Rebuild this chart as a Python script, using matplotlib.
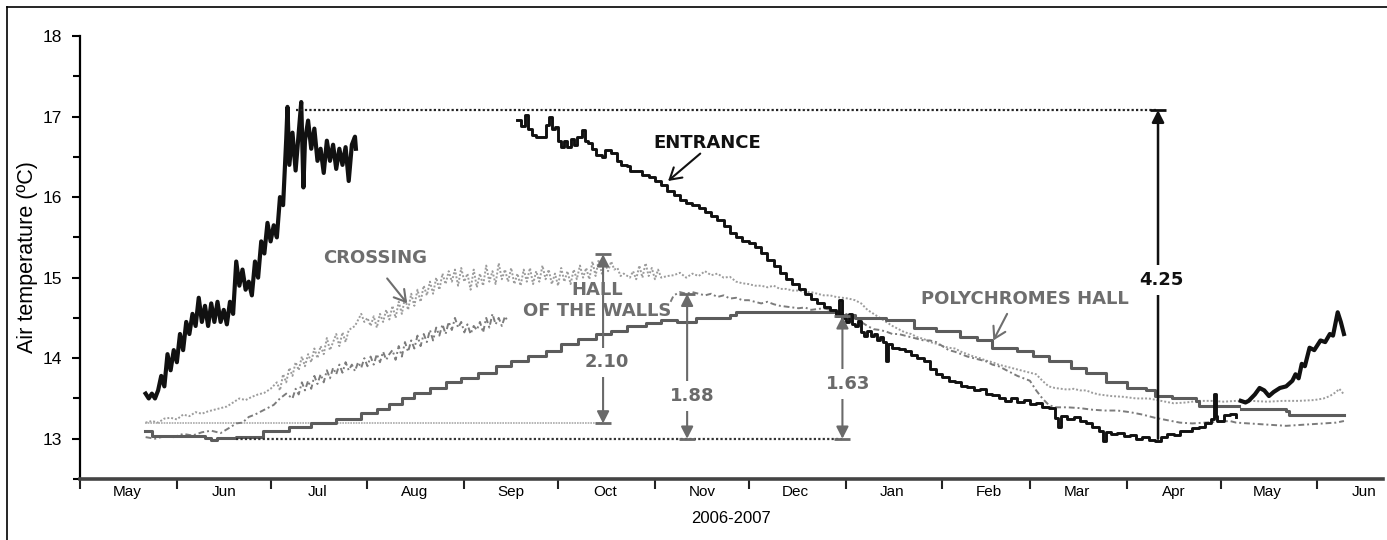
import numpy as np
import pandas as pd
import matplotlib
matplotlib.use("Agg")
import matplotlib.pyplot as plt
import matplotlib.dates as mdates
from matplotlib.lines import Line2D
from matplotlib.ticker import MultipleLocator, NullFormatter

plt.rcParams['font.family'] = ['Liberation Sans', 'DejaVu Sans']

# days counted from 1 May 2006
START = pd.Timestamp("2006-05-01")

ent1_days = [21, 22, 23, 24, 25, 26, 27, 28, 29, 30, 31, 32, 33, 34, 35, 36, 37, 38, 39, 40,
             41, 42, 43, 44, 45, 46, 47, 48, 49, 50, 51, 52, 53, 54, 55, 56, 57, 58, 59, 60,
             61, 62, 63, 64, 65, 66, 66.4, 67, 68, 69, 70, 70.8, 71.5, 72, 73, 74, 75, 76, 77, 78,
             79, 80, 81, 82, 83, 84, 85, 86, 87, 88, 88.3]
ent1_temp = [13.56, 13.50, 13.56, 13.50, 13.60, 13.78, 13.65, 14.05, 13.85, 14.10, 13.95, 14.30,
             14.10, 14.45, 14.30, 14.55, 14.40, 14.75, 14.45, 14.65, 14.40, 14.68, 14.45, 14.70,
             14.45, 14.60, 14.42, 14.70, 14.55, 15.20, 14.90, 15.10, 14.85, 14.95, 14.78, 15.20,
             15.00, 15.45, 15.30, 15.68, 15.45, 15.65, 15.50, 16.00, 15.90, 16.72, 17.12, 16.40,
             16.80, 16.33, 16.80, 17.18, 16.12, 16.70, 16.95, 16.60, 16.85, 16.45, 16.60, 16.30,
             16.70, 16.45, 16.65, 16.35, 16.60, 16.40, 16.62, 16.20, 16.65, 16.75, 16.60]

ent2_days = [140, 141, 142.5, 143.5, 144.5, 146, 148, 149, 150, 151, 152, 153, 154, 155, 156,
             157, 158, 159, 160.5, 161.5, 162.5, 164, 165, 167, 168, 170, 172, 173, 175, 176,
             178, 180, 182, 184, 186, 188, 190, 192, 194, 196, 198, 200, 202, 204, 206, 208,
             210, 212, 214, 216, 218, 220, 222, 224, 226, 228, 230, 232, 234, 236, 238, 240,
             242, 243, 244, 245, 246, 247, 248, 249, 250, 251, 252, 253, 254, 255, 256, 257,
             258, 258.5, 260, 262, 264, 266, 268, 270, 272, 274, 276, 278, 280, 282, 284, 286,
             288, 290, 292, 294, 296, 298, 300, 302, 304, 306, 308, 310, 312, 313, 314, 316,
             318, 320, 322, 324, 326, 327.5, 328.5, 330, 332, 334, 336, 338, 340, 342, 344, 346,
             348, 350, 352, 354, 356, 358, 360, 362, 363, 363.5, 364, 366, 368, 370]
ent2_temp = [16.96, 16.88, 17.02, 16.85, 16.77, 16.74, 16.74, 16.90, 17.00, 16.85, 16.87, 16.70,
             16.62, 16.70, 16.62, 16.72, 16.65, 16.75, 16.83, 16.70, 16.67, 16.60, 16.52, 16.50,
             16.58, 16.55, 16.45, 16.40, 16.38, 16.33, 16.32, 16.27, 16.25, 16.20, 16.15, 16.08,
             16.02, 15.97, 15.93, 15.90, 15.86, 15.81, 15.76, 15.71, 15.64, 15.56, 15.50, 15.46,
             15.43, 15.38, 15.30, 15.22, 15.15, 15.06, 14.98, 14.92, 14.86, 14.80, 14.74, 14.68,
             14.64, 14.60, 14.52, 14.72, 14.50, 14.45, 14.55, 14.42, 14.40, 14.46, 14.32, 14.28,
             14.34, 14.28, 14.30, 14.22, 14.26, 14.20, 13.97, 14.18, 14.13, 14.12, 14.09, 14.04,
             14.00, 13.96, 13.86, 13.80, 13.77, 13.72, 13.70, 13.66, 13.64, 13.60, 13.62, 13.56,
             13.54, 13.50, 13.47, 13.50, 13.46, 13.48, 13.43, 13.44, 13.40, 13.38, 13.26, 13.14,
             13.28, 13.25, 13.27, 13.22, 13.20, 13.14, 13.10, 12.97, 13.08, 13.06, 13.07, 13.03,
             13.05, 13.00, 13.02, 12.98, 12.97, 13.02, 13.06, 13.05, 13.10, 13.09, 13.13, 13.15,
             13.20, 13.24, 13.56, 13.28, 13.22, 13.30, 13.31, 13.27]

ent3_days = [371.5, 373, 374, 376, 377.5, 379, 380.5, 382, 384, 386, 388, 389, 390, 391, 392,
             393.5, 395, 397, 398.5, 400, 401, 402.5, 403.5, 404.5]
ent3_temp = [13.47, 13.45, 13.47, 13.55, 13.63, 13.60, 13.53, 13.58, 13.63, 13.65, 13.72, 13.80,
             13.75, 13.93, 13.90, 14.13, 14.10, 14.22, 14.20, 14.30, 14.28, 14.57, 14.45, 14.30]

cross_days = [21, 23, 25, 27, 29, 31, 33, 35, 37, 39, 41, 43, 45, 47, 49, 51, 53, 55, 57, 59,
              61, 63, 64, 65, 66, 67, 68, 69, 70, 71, 72, 73, 74, 75, 76, 77, 78, 79, 80, 81,
              82, 83, 84, 85, 86, 88, 90, 91, 92, 93, 94, 95, 96, 97, 98, 99, 100, 101, 102, 103,
              104, 105, 106, 107, 108, 109, 110, 111, 112, 113, 114, 115, 116, 117, 118, 119, 120,
              121, 122, 123, 124, 125, 126, 127, 128, 129, 130, 131, 132, 133, 134, 135, 136, 137,
              138, 139, 140, 141, 142, 143, 144, 145, 146, 147, 148, 149, 150, 151, 152, 153, 154,
              155, 156, 157, 158, 159, 160, 161, 162, 163, 164, 165, 166, 167, 168, 169, 170, 171,
              172, 173, 174, 176, 177, 178, 179, 180, 181, 182, 183, 184, 185, 186, 188, 190, 192,
              194, 196, 198, 200, 202, 204, 206, 208, 210, 212, 214, 216, 218, 220, 222, 224, 226,
              228, 230, 232, 234, 236, 238, 240, 242, 244, 246, 248, 250, 252, 254, 256, 258, 260,
              262, 264, 266, 268, 270, 272, 274, 276, 278, 280, 282, 284, 286, 288, 290, 292, 294,
              296, 298, 300, 302, 304, 306, 308, 310, 312, 314, 316, 318, 320, 322, 324, 326, 328,
              330, 334, 338, 342, 346, 350, 354, 358, 362, 366, 370, 375, 380, 385, 390, 395, 398,
              400, 402, 403, 404.5]
cross_temp = [13.20, 13.22, 13.20, 13.25, 13.26, 13.24, 13.30, 13.28, 13.33, 13.31, 13.34, 13.36,
              13.38, 13.40, 13.45, 13.50, 13.48, 13.52, 13.55, 13.57, 13.62, 13.70, 13.60, 13.80,
              13.70, 13.88, 13.78, 13.95, 13.85, 14.02, 13.90, 14.05, 13.95, 14.12, 14.00, 14.15,
              14.05, 14.25, 14.10, 14.20, 14.30, 14.15, 14.32, 14.20, 14.35, 14.40, 14.55, 14.45,
              14.50, 14.40, 14.52, 14.38, 14.55, 14.45, 14.60, 14.48, 14.65, 14.50, 14.70, 14.55,
              14.75, 14.60, 14.80, 14.65, 14.85, 14.70, 14.90, 14.78, 14.95, 14.80, 15.00, 14.85,
              15.05, 14.92, 15.08, 14.95, 15.10, 14.90, 15.12, 14.95, 15.05, 14.85, 15.10, 14.88,
              15.05, 14.90, 15.15, 14.95, 15.08, 14.92, 15.18, 14.98, 15.10, 14.95, 15.12, 14.92,
              15.05, 14.90, 15.10, 14.95, 15.12, 14.92, 15.08, 14.95, 15.15, 14.98, 15.10, 14.92,
              15.05, 14.90, 15.12, 14.95, 15.08, 14.92, 15.10, 14.98, 15.15, 15.00, 15.12, 14.98,
              15.20, 15.02, 15.22, 15.05, 15.18, 15.08, 15.20, 15.10, 15.12, 15.02, 15.05, 15.00,
              15.08, 14.98, 15.15, 15.00, 15.18, 15.02, 15.12, 14.98, 15.10, 15.00, 15.02, 15.03,
              15.06, 15.00, 15.05, 15.02, 15.08, 15.03, 15.05, 15.00, 15.01, 14.95, 14.93, 14.92,
              14.90, 14.90, 14.88, 14.90, 14.86, 14.86, 14.84, 14.84, 14.82, 14.82, 14.80, 14.78,
              14.78, 14.76, 14.75, 14.74, 14.72, 14.68, 14.60, 14.55, 14.50, 14.45, 14.40, 14.36,
              14.32, 14.30, 14.26, 14.24, 14.20, 14.18, 14.15, 14.13, 14.12, 14.08, 14.05, 14.02,
              14.00, 13.97, 13.95, 13.92, 13.90, 13.88, 13.86, 13.84, 13.82, 13.80, 13.72, 13.65,
              13.63, 13.62, 13.61, 13.62, 13.60, 13.60, 13.57, 13.55, 13.54, 13.53, 13.52, 13.50,
              13.50, 13.47, 13.44, 13.45, 13.47, 13.47, 13.46, 13.47, 13.47, 13.46, 13.47, 13.47,
              13.48, 13.50, 13.53, 13.58, 13.62, 13.55]

walls_days = [21, 24, 27, 30, 33, 36, 39, 42, 45, 48, 50, 52, 54, 56, 58, 60, 62, 64, 66, 68,
              69, 70, 71, 72, 73, 74, 75, 76, 77, 78, 79, 80, 81, 82, 83, 84, 85, 86, 87, 88, 89,
              90, 91, 92, 93, 94, 95, 96, 97, 98, 99, 100, 101, 102, 103, 104, 105, 106, 107, 108,
              109, 110, 111, 112, 113, 114, 115, 116, 117, 118, 119, 120, 121, 122, 123, 124, 125,
              126, 127, 128, 129, 130, 131, 132, 133, 134, 135, 136, 137, 160,
              189, 190, 192, 194, 196, 198, 200, 202, 204, 206, 208, 210, 212, 214, 216, 218, 220,
              222, 224, 226, 228, 230, 232, 234, 236, 238, 240, 242, 244, 246, 248, 250, 252, 254,
              256, 258, 260, 262, 264, 266, 268, 270, 272, 274, 276, 278, 280, 282, 284, 286, 288,
              290, 292, 294, 296, 298, 300, 302, 304, 306, 308, 310, 312, 316, 320, 324, 328, 332,
              336, 340, 344, 348, 352, 356, 360, 364, 368, 370, 374, 378, 382, 386, 390, 394, 398,
              402, 404.5]
walls_temp = [13.02, 13.00, 13.03, 13.02, 13.06, 13.04, 13.08, 13.10, 13.07, 13.14, 13.19, 13.20,
              13.27, 13.30, 13.34, 13.38, 13.42, 13.50, 13.56, 13.50, 13.62, 13.55, 13.70, 13.60,
              13.72, 13.62, 13.78, 13.68, 13.80, 13.70, 13.85, 13.75, 13.88, 13.80, 13.92, 13.82,
              13.95, 13.85, 13.92, 13.84, 13.95, 13.88, 14.00, 13.90, 14.02, 13.92, 14.05, 13.95,
              14.08, 13.98, 14.05, 14.10, 13.98, 14.15, 14.02, 14.20, 14.08, 14.22, 14.12, 14.28,
              14.15, 14.30, 14.20, 14.35, 14.22, 14.38, 14.28, 14.42, 14.30, 14.45, 14.35, 14.50,
              14.38, 14.45, 14.32, 14.42, 14.30, 14.40, 14.35, 14.45, 14.32, 14.50, 14.38, 14.55,
              14.42, 14.50, 14.40, 14.52, 14.45, np.nan,
              14.70, 14.78, 14.82, 14.80, 14.82, 14.80, 14.78, 14.80, 14.76, 14.78, 14.74, 14.75,
              14.72, 14.72, 14.70, 14.68, 14.70, 14.67, 14.65, 14.64, 14.63, 14.62, 14.63, 14.60,
              14.61, 14.62, 14.60, 14.58, 14.56, 14.54, 14.50, 14.45, 14.40, 14.36, 14.35, 14.33,
              14.30, 14.30, 14.28, 14.26, 14.24, 14.22, 14.22, 14.20, 14.15, 14.10, 14.08, 14.05,
              14.02, 14.00, 13.98, 13.96, 13.92, 13.90, 13.86, 13.82, 13.78, 13.75, 13.72, 13.60,
              13.50, 13.42, 13.39, 13.39, 13.38, 13.36, 13.35, 13.35, 13.33, 13.30, 13.26, 13.23,
              13.20, 13.19, 13.20, 13.21, 13.22, 13.20, 13.19, 13.18, 13.17, 13.16, 13.17, 13.18,
              13.19, 13.20, 13.22]

poly_days = [20.7, 23, 30, 40, 42, 44, 50, 58.5, 67, 74, 82, 90, 95, 99, 103, 107, 112, 117, 122,
             127.5, 133, 138, 143.5, 149, 154, 159.5, 165, 170, 175, 181, 186, 191, 197, 208, 210,
             243, 248, 258, 267, 274, 281.6, 287, 292, 300, 305, 310, 317, 322, 328.5, 335, 341,
             344, 349.5, 357, 358, 370, 370.8, 371.5, 386, 387, 404.5]
poly_temp = [13.10, 13.04, 13.03, 13.01, 12.98, 13.01, 13.02, 13.10, 13.14, 13.20, 13.25, 13.32,
             13.37, 13.43, 13.50, 13.57, 13.63, 13.70, 13.76, 13.82, 13.90, 13.97, 14.03, 14.09,
             14.18, 14.24, 14.30, 14.34, 14.40, 14.44, 14.47, 14.45, 14.50, 14.53, 14.57, 14.53,
             14.50, 14.47, 14.38, 14.34, 14.26, 14.22, 14.13, 14.09, 14.03, 13.97, 13.88, 13.82,
             13.70, 13.63, 13.60, 13.53, 13.51, 13.47, 13.41, 13.41, np.nan, 13.37, 13.35, 13.29,
             13.29]

# reference levels and differences
level_max = 17.08
level_min = 13.00
level_cross = 13.19
diff_labels = ['2.10', '1.88', '1.63', '4.25']
diff_days = [167.4, 194.3, 244.0, 345.0]
diff_low = [13.19, 13.00, 13.00, 13.00]
diff_high = [15.29, 14.80, 14.52, 17.08]
diff_label_days = [168.5, 196.0, 245.8, 346.0]
diff_label_temp = [13.95, 13.53, 13.68, 14.97]


def to_dates(days):
    return START + pd.to_timedelta(np.asarray(days, dtype=float), unit='D')


fig = plt.figure(figsize=(13.87, 5.40), dpi=100)
ax = fig.add_axes([80 / 1387, 1 - 479 / 540, 1303 / 1387, (479 - 36) / 540])

c_text = '#6e6e6e'
c_poly = '#5c5c5c'
c_walls = '#7c7c7c'
c_cross = '#9c9c9c'

ax.plot(to_dates(cross_days), cross_temp, color=c_cross, lw=1.4, ls=(0, (1, 1)), zorder=2)
ax.plot(to_dates(walls_days), walls_temp, color=c_walls, lw=1.4, ls=(0, (3, 1.5, 1, 1.5)), zorder=3)
ax.plot(to_dates(poly_days), poly_temp, color=c_poly, lw=2.2, drawstyle='steps-post', zorder=4)
ax.plot(to_dates(ent1_days), ent1_temp, color='#111111', lw=3.0, zorder=5)
ax.plot(to_dates(ent2_days), ent2_temp, color='#111111', lw=2.1, drawstyle='steps-post', zorder=5)
ax.plot(to_dates(ent3_days), ent3_temp, color='#111111', lw=3.0, zorder=5)

# horizontal reference lines
ax.plot(to_dates([69, 345]), [level_max, level_max], color='#222222', lw=1.6, ls=(0, (1, 1)), zorder=6)
ax.plot(to_dates([50, 244]), [level_min, level_min], color='#333333', lw=1.6, ls=(0, (1, 1)), zorder=6)
ax.plot(to_dates([20.7, 167.4]), [level_cross, level_cross], color='#aaaaaa', lw=1.2, ls=(0, (1, 0.6)), zorder=2)

# difference arrows
for lab, d, lo, hi, ld, lt in zip(diff_labels, diff_days, diff_low, diff_high, diff_label_days, diff_label_temp):
    black = lab == '4.25'
    col = '#111111' if black else '#6a6a6a'
    style = '-|>' if black else '<|-|>'
    x = to_dates([d])[0]
    ax.annotate('', xy=(x, hi), xytext=(x, lo),
                arrowprops=dict(arrowstyle=style + ',head_length=0.55,head_width=0.28', color=col,
                                lw=1.8 if black else 1.5, shrinkA=0, shrinkB=0,
                                mutation_scale=13), zorder=7)
    ends = [hi] if black else [lo, hi]
    ax.plot([x] * len(ends), ends, ls='none', marker='_', ms=11, mew=2, color=col, zorder=7)
    ax.text(to_dates([ld])[0], lt, lab, ha='center', va='center', fontsize=13, fontweight='bold',
            family='DejaVu Sans', color=col, zorder=8,
            bbox=dict(facecolor='white', edgecolor='none', pad=4))

# series labels
bold = dict(fontsize=13, fontweight='bold', family='DejaVu Sans')
pointer = dict(arrowstyle='->,head_length=0.5,head_width=0.3', lw=1.5, shrinkA=0, shrinkB=0,
               mutation_scale=16)
ax.text(to_dates([200.7])[0], 16.67, 'ENTRANCE', ha='center', va='center', color='#111111', **bold)
ax.annotate('', xy=(to_dates([188.2])[0], 16.20), xytext=(to_dates([198.5])[0], 16.54),
            arrowprops=dict(color='#111111', **pointer))
ax.text(to_dates([94.4])[0], 15.24, 'CROSSING', ha='center', va='center', color=c_text, **bold)
ax.annotate('', xy=(to_dates([104.7])[0], 14.68), xytext=(to_dates([98.3])[0], 14.99),
            arrowprops=dict(color=c_text, **pointer))
ax.text(to_dates([165.5])[0], 14.72, 'HALL\nOF THE WALLS', ha='center', va='center',
        multialignment='center', linespacing=1.2, color=c_text, zorder=8, **bold)
ax.text(to_dates([302.5])[0], 14.74, 'POLYCHROMES HALL', ha='center', va='center', color=c_text, **bold)
ax.annotate('', xy=(to_dates([292.3])[0], 14.22), xytext=(to_dates([296.7])[0], 14.55),
            arrowprops=dict(color=c_text, **pointer))

# axes styling
ax.set_xlim(START, START + pd.Timedelta(days=417))
ax.set_ylim(12.5, 18)
ax.yaxis.set_major_locator(MultipleLocator(1))
ax.yaxis.set_minor_locator(MultipleLocator(0.5))
ax.xaxis.set_major_locator(mdates.MonthLocator())
ax.xaxis.set_major_formatter(NullFormatter())
ax.xaxis.set_minor_locator(mdates.MonthLocator(bymonthday=16))
ax.xaxis.set_minor_formatter(mdates.DateFormatter('%b'))
ax.tick_params(axis='x', which='major', length=7, width=1.5, direction='out', color='#222222')
ax.tick_params(axis='x', which='minor', length=0, labelsize=11, pad=4)
ax.tick_params(axis='y', which='major', length=6, width=1.5, direction='out', labelsize=12.5, pad=7)
ax.tick_params(axis='y', which='minor', length=5, width=1.5, direction='out')
ax.spines['top'].set_visible(False)
ax.spines['right'].set_visible(False)
ax.spines['left'].set_linewidth(1.6)
ax.spines['bottom'].set_linewidth(2.6)
ax.spines['bottom'].set_color('#444444')
ax.set_ylabel('Air temperature (ºC)', fontsize=15.5, labelpad=3)
ax.set_xlabel('2006-2007', fontsize=12, labelpad=9)

# frame around the figure (left and top edges only)
fig.add_artist(Line2D([7 / 1387, 7 / 1387], [0, 1 - 7 / 540], transform=fig.transFigure, color='black', lw=1.2))
fig.add_artist(Line2D([7 / 1387, 1], [1 - 7 / 540, 1 - 7 / 540], transform=fig.transFigure, color='black', lw=1.2))

fig.savefig('out.png', dpi=100)
